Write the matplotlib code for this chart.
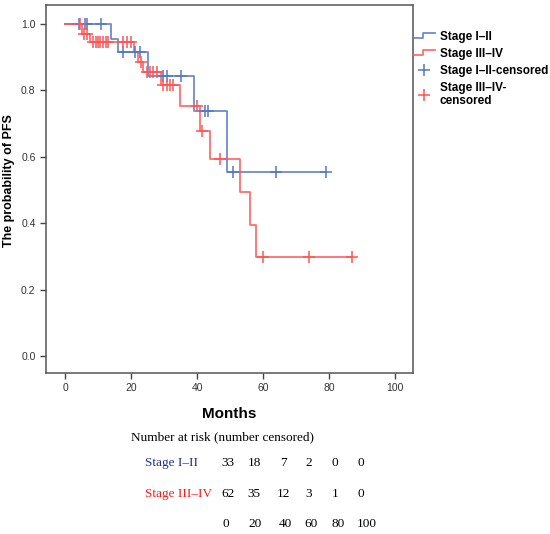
import matplotlib
matplotlib.use("Agg")
import matplotlib.pyplot as plt
from matplotlib.legend_handler import HandlerBase
from matplotlib.lines import Line2D
import numpy as np

plt.rcParams['font.family'] = ['Liberation Sans', 'DejaVu Sans']

# Kaplan-Meier steps (months, probability)
early_times = [0, 14, 16, 25, 39, 49]
early_surv = [1.0, 0.955, 0.914, 0.843, 0.739, 0.555]
early_end = 79
early_cens_t = [4.3, 6, 6.6, 11, 17.7, 21.2, 22.7, 29.8, 30.8, 35, 42.4, 43.4, 51, 64, 79]

late_times = [0, 5, 7.6, 21, 22, 23.7, 29, 34.8, 41, 44, 53, 56, 58]
late_surv = [1.0, 0.971, 0.947, 0.916, 0.886, 0.854, 0.816, 0.753, 0.678, 0.592, 0.495, 0.395, 0.297]
late_end = 87
late_cens_t = [4.5, 5.6, 6.5, 8.6, 9.3, 10, 10.7, 11.5, 12.3, 13, 17.7, 18.7, 19.9,
               23, 24.7, 25.8, 26.8, 27.8, 29.8, 30.8, 31.8, 32.8, 39.9, 41.5, 47, 60, 74, 87]

risk_times = [0, 20, 40, 60, 80, 100]
risk_early = [33, 18, 7, 2, 0, 0]
risk_late = [62, 35, 12, 3, 1, 0]

blue = '#5577c4'
red = '#ff5555'


def surv_at(times, surv, t):
    idx = np.searchsorted(times, t, side='right') - 1
    return surv[idx]


class StepHandler(HandlerBase):
    # little step glyph like the SPSS legend
    def create_artists(self, legend, orig, xd, yd, width, height, fontsize, trans):
        lo = yd + height * 0.2
        hi = yd + height * 0.8
        xs = [xd, xd + width * 0.45, xd + width * 0.45, xd + width]
        ys = [lo, lo, hi, hi]
        ln = Line2D(xs, ys, color=orig.get_color(), lw=orig.get_linewidth(),
                    alpha=orig.get_alpha(), transform=trans)
        return [ln]


fig = plt.figure(figsize=(5.5, 5.34), dpi=100)
ax = fig.add_axes([46 / 550, 1 - 373 / 534, 367 / 550, 368 / 534])

step_lines = []
for times, surv, end, col, name in [
    (early_times, early_surv, early_end, blue, 'Stage I\u2013II'),
    (late_times, late_surv, late_end, red, 'Stage III\u2013IV'),
]:
    xs = list(times) + [end]
    ys = list(surv) + [surv[-1]]
    ln, = ax.step(xs, ys, where='post', color=col, lw=1.3, alpha=0.85, label=name)
    step_lines.append(ln)

ax.plot(early_cens_t, [surv_at(early_times, early_surv, t) for t in early_cens_t],
        ls='none', marker='+', ms=8, mew=1.1, color=blue, label='Stage I\u2013II-censored')
ax.plot(late_cens_t, [surv_at(late_times, late_surv, t) for t in late_cens_t],
        ls='none', marker='+', ms=8, mew=1.1, color=red, label='Stage III\u2013IV-\ncensored')

ax.set_xlim(-5.8, 105.5)
ax.set_ylim(-0.051, 1.057)
ax.set_xticks([0, 20, 40, 60, 80, 100])
ax.set_yticks([0.0, 0.2, 0.4, 0.6, 0.8, 1.0])
ax.set_yticklabels(['0.0', '0.2', '0.4', '0.6', '0.8', '1.0'])
ax.tick_params(direction='out', length=4, width=1, colors='#444444', labelsize=7.5,
               labelcolor='#333333')
for s in ax.spines.values():
    s.set_color('#555555')
    s.set_linewidth(1.1)

ax.set_xlabel('Months', fontsize=11, fontweight='bold', labelpad=10)
fig.text(9 / 550, 1 - 181 / 534, 'The probability of PFS', fontsize=9, fontweight='bold',
         rotation=90, ha='center', va='center')

leg = ax.legend(loc='upper left', bbox_to_anchor=(1.0, 0.93), frameon=False,
                prop={'weight': 'bold', 'size': 8.5}, handlelength=1.9,
                handletextpad=0.35, labelspacing=0.42, borderaxespad=0, borderpad=0,
                handler_map={step_lines[0]: StepHandler(), step_lines[1]: StepHandler()})

# number at risk table
serif = ['Liberation Serif', 'DejaVu Serif']
fig.text(131 / 550, 1 - 437 / 534, 'Number at risk (number censored)', family=serif,
         fontsize=9.5, va='center', ha='left')
fig.text(145 / 550, 1 - 463 / 534, 'Stage I\u2013II', family=serif, fontsize=9.5,
         color='#1f3088', va='center', ha='left')
fig.text(145 / 550, 1 - 494 / 534, 'Stage III\u2013IV', family=serif, fontsize=9.5,
         color='#ff1a1a', va='center', ha='left')
col_x = [228, 254, 283, 309, 335, 361]
for cx, a, b in zip(col_x, risk_early, risk_late):
    fig.text(cx / 550, 1 - 463 / 534, str(a), family=serif, fontsize=9.5, va='center', ha='center')
    fig.text(cx / 550, 1 - 494 / 534, str(b), family=serif, fontsize=9.5, va='center', ha='center')
tick_x = [226, 255, 285, 311, 338, 367]
for cx, t in zip(tick_x, risk_times):
    fig.text(cx / 550, 1 - 524 / 534, str(t), family=serif, fontsize=9.5, va='center', ha='center')

fig.savefig('out.png', dpi=100)
